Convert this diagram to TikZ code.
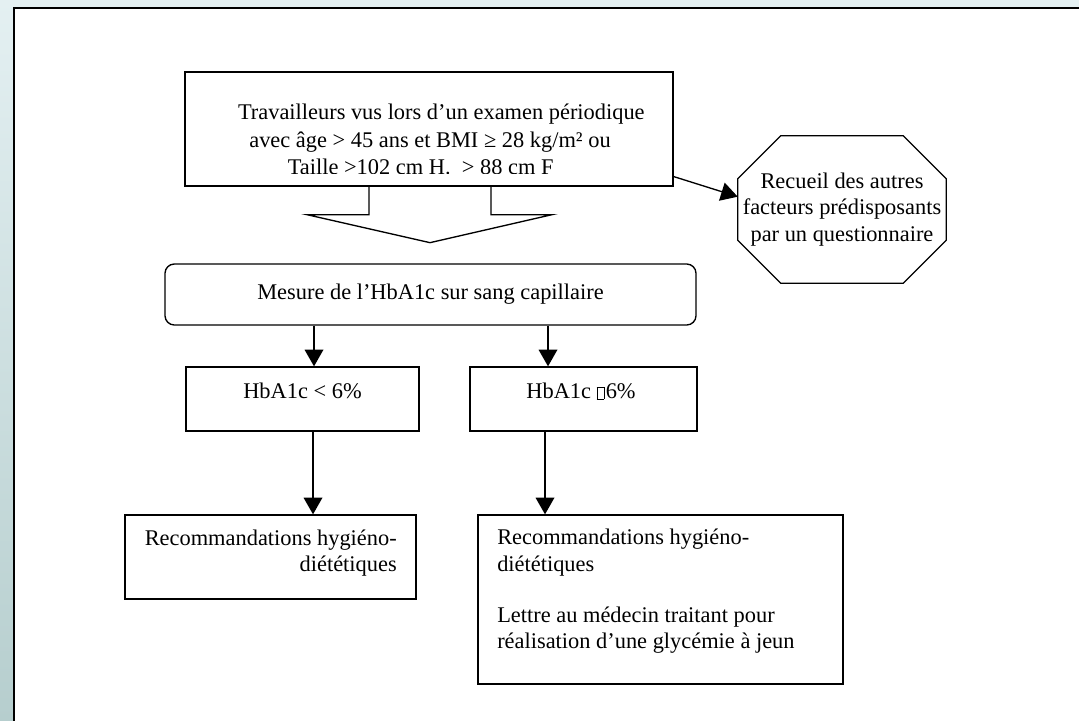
\documentclass[tikz,border=0pt]{standalone}
\usepackage{fontspec}
\setmainfont{Liberation Serif}
\usetikzlibrary{arrows.meta, calc}
\newcommand{\pxu}{0.75pt}
\definecolor{bgtop}{RGB}{228,240,242}
\definecolor{bgbottom}{RGB}{182,206,206}

\begin{document}
\begin{tikzpicture}[
  x=\pxu, y=-\pxu,
  every node/.style={font=\fontsize{16.8}{20}\selectfont},
  box/.style={draw, line width=1pt, inner sep=0pt},
  roundbox/.style={draw, line width=1pt, rounded corners=7pt, inner sep=0pt},
  txt/.style={inner sep=0pt},
  arrow/.style={-{Triangle[length=12.5pt,width=14pt]}, line width=1pt},
  outline/.style={line width=1pt, line join=miter}
]

% Page and sheet
\useasboundingbox (0,0) rectangle (1079,721);
\fill[top color=bgtop, bottom color=bgbottom] (0,0) rectangle (1079,721);
\draw[line width=1.5pt, fill=white] (14,8) rectangle (1095,740);

% Boxes
\node[box, minimum width=488*\pxu, minimum height=114*\pxu] (workers) at (429,129) {};
\begin{scope}
  \clip (workers.north west) rectangle ($(workers.south east)+(0,-13)$);
  \node[txt, align=center, font=\fontsize{16.8}{20.6}\selectfont] (workerstxt) at (430,139.5)
    {\hspace*{17pt}Travailleurs vus lors d’un examen périodique\\
    avec âge > 45 ans et BMI ≥ 28 kg/m² ou\\Taille >102 cm H.~ > 88 cm F\hspace*{14pt}};
\end{scope}
\node[txt, minimum width=208*\pxu, minimum height=147*\pxu, align=center] (recueil) at (842,209.5)
  {Recueil des autres\\facteurs prédisposants\\par un questionnaire};
\draw[outline] ($(recueil.north west)+(43,0)$) -- ($(recueil.north east)+(-43,0)$)
  -- ($(recueil.north east)+(0,43)$) -- ($(recueil.south east)+(0,-43)$)
  -- ($(recueil.south east)+(-43,0)$) -- ($(recueil.south west)+(43,0)$)
  -- ($(recueil.south west)+(0,-43)$) -- ($(recueil.north west)+(0,43)$) -- cycle;
\node[roundbox, minimum width=531*\pxu, minimum height=61*\pxu] (hba) at (430.5,294.5)
  {Mesure de l’HbA1c sur sang capillaire};

\node[box, minimum width=233*\pxu, minimum height=64*\pxu] (low) at (302.5,399) {};
\node[txt] (lowtxt) at (302.5,391) {HbA1c < 6\%};
\node[box, minimum width=227*\pxu, minimum height=64*\pxu] (high) at (583.5,399) {};
\node[txt] (hightxt) at (581,391)
  {HbA1c {\fboxsep=0pt\fboxrule=0.4pt\fbox{\rule{0pt}{8.5pt}\hspace{5pt}}}\hspace{1pt}6\%};

\node[box, minimum width=291*\pxu, minimum height=84*\pxu] (advicelow) at (270.5,557) {};
\node[txt, align=right, anchor=east] (advicelowtxt) at (397,553)
  {Recommandations hygiéno-\\diététiques};
\node[box, minimum width=365*\pxu, minimum height=169*\pxu] (advicehigh) at (660.5,599.5) {};
\node[txt, align=left, anchor=west] (advicehightxt) at (497,591.5)
  {Recommandations hygiéno-\\diététiques\\[18pt]Lettre au médecin traitant pour\\
  réalisation d’une glycémie à jeun};

% Block arrow
\draw[outline] ($(workers.south)+(-60,0)$) -- ++(0,28) -- ++(-62,0)
  -- ($(workers.south)+(1,56)$) -- ($(workers.south)+(123,28)$) -- ++(-61,0) -- ++(0,-28);

% Arrows
\draw[arrow] (workers.-11.4) -- (recueil.173);
\draw[arrow] ($(hba.south)+(-116.5,0)$) -- ($(low.north)+(11.5,0)$);
\draw[arrow] ($(hba.south)+(117.5,0)$) -- ($(high.north)+(-35.5,0)$);
\draw[arrow] ($(low.south)+(10.5,0)$) -- ($(advicelow.north)+(42.5,0)$);
\draw[arrow] ($(high.south)+(-38.5,0)$) -- ($(advicehigh.north)+(-115.5,0)$);
\end{tikzpicture}
\end{document}
